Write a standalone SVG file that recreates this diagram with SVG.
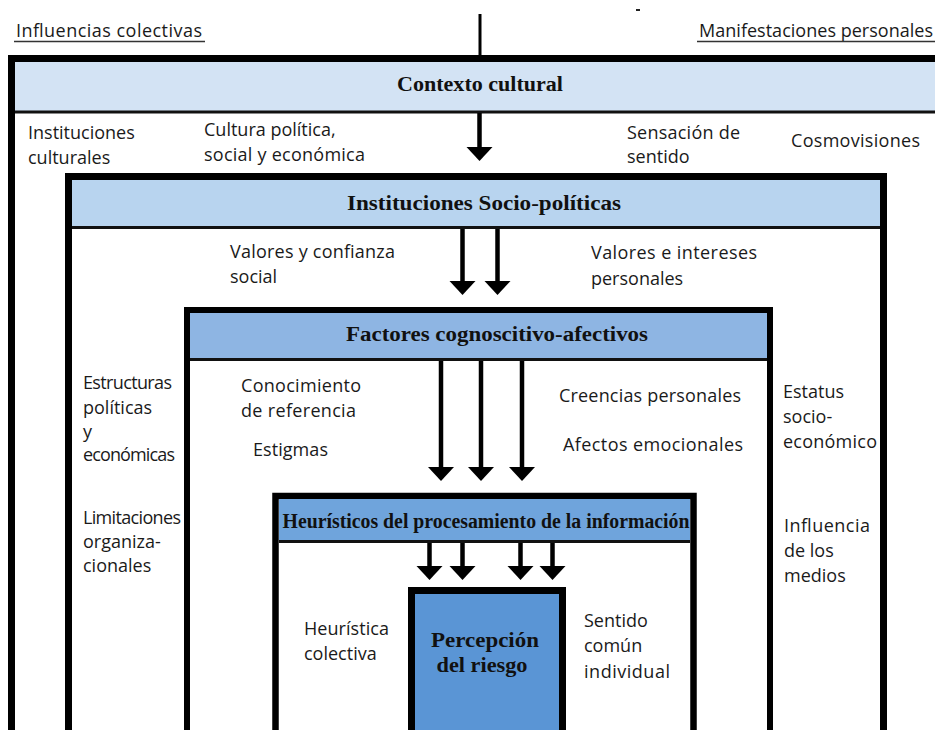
<svg xmlns="http://www.w3.org/2000/svg" width="935" height="730" viewBox="0 0 935 730">
<style>
.box{stroke:#000;}
.t{font-family:"Open Sans","Liberation Sans",sans-serif;font-size:18px;fill:#1a1a1a;}
.h{font-family:"Liberation Serif","DejaVu Serif",serif;font-weight:bold;font-size:20px;fill:#111;text-anchor:middle;}
.hl{stroke:#111;stroke-width:3;}
.ar{stroke:#000;stroke-width:4.5;fill:none;marker-end:url(#ah);}
.ul{stroke:#333;stroke-width:1.3;}
</style>
<defs>
<marker id="ah" markerUnits="userSpaceOnUse" markerWidth="15" markerHeight="27" refX="1" refY="13" orient="auto" viewBox="0 0 15 27" overflow="visible">
<path d="M0,0 L14,13 L0,26 Z" fill="#000"/>
</marker>
</defs>
<rect width="935" height="730" fill="#fff"/>

<g id="top">
<text class="t" x="16" y="37" textLength="186">Influencias colectivas</text>
<line class="ul" x1="14" y1="41.5" x2="205" y2="41.5"/>
<text class="t" x="699" y="37" textLength="234">Manifestaciones personales</text>
<line class="ul" x1="697" y1="41.5" x2="935" y2="41.5"/>
<line x1="480" y1="14" x2="480" y2="57" stroke="#000" stroke-width="3"/>
<rect x="636" y="9" width="4" height="2" fill="#222"/>
</g>

<g id="contexto-cultural">
<rect class="box" x="11.5" y="58.5" width="960" height="720" fill="#fff" stroke-width="7"/>
<rect x="15" y="62" width="930" height="49" fill="#D3E3F4"/>
<line class="hl" x1="15" y1="112" x2="935" y2="112"/>
<text class="h" x="480" y="91" textLength="166" lengthAdjust="spacingAndGlyphs">Contexto cultural</text>
<text class="t" x="28" y="139">Instituciones</text>
<text class="t" x="28" y="164">culturales</text>
<text class="t" x="204" y="136">Cultura política,</text>
<text class="t" x="204" y="161" textLength="161">social y económica</text>
<text class="t" x="627" y="139" textLength="113">Sensación de</text>
<text class="t" x="627" y="163">sentido</text>
<text class="t" x="791" y="147" textLength="129">Cosmovisiones</text>
</g>

<g id="instituciones-socio-politicas">
<rect class="box" x="68.5" y="176.5" width="815" height="600" fill="#fff" stroke-width="7"/>
<rect x="72" y="180" width="808" height="47" fill="#B8D4EF"/>
<line class="hl" x1="72" y1="227.5" x2="880" y2="227.5"/>
<text class="h" x="484" y="210" textLength="274" lengthAdjust="spacingAndGlyphs">Instituciones Socio-políticas</text>
<text class="t" x="230" y="258" textLength="165">Valores y confianza</text>
<text class="t" x="230" y="283">social</text>
<text class="t" x="591" y="259" textLength="166">Valores e intereses</text>
<text class="t" x="591" y="285">personales</text>
<text class="t" x="83" y="389" textLength="89">Estructuras</text>
<text class="t" x="83" y="414">políticas</text>
<text class="t" x="83" y="438"> y</text>
<text class="t" x="83" y="461" textLength="92">económicas</text>
<text class="t" x="83" y="524" textLength="98">Limitaciones</text>
<text class="t" x="83" y="548">organiza-</text>
<text class="t" x="83" y="572">cionales</text>
<text class="t" x="783" y="398">Estatus</text>
<text class="t" x="783" y="423">socio-</text>
<text class="t" x="783" y="448" textLength="94">económico</text>
<text class="t" x="784" y="532" textLength="86">Influencia</text>
<text class="t" x="784" y="557">de los</text>
<text class="t" x="784" y="582">medios</text>
</g>

<g id="factores-cognoscitivo-afectivos">
<rect class="box" x="187" y="310" width="583" height="500" fill="#fff" stroke-width="6"/>
<rect x="190" y="313" width="577" height="46" fill="#8EB5E3"/>
<line class="hl" x1="190" y1="359.5" x2="767" y2="359.5"/>
<text class="h" x="497" y="341" textLength="302" lengthAdjust="spacingAndGlyphs">Factores cognoscitivo-afectivos</text>
<text class="t" x="241" y="392" textLength="120">Conocimiento</text>
<text class="t" x="241" y="417" textLength="115">de referencia</text>
<text class="t" x="253" y="456" textLength="75">Estigmas</text>
<text class="t" x="559" y="402" textLength="182">Creencias personales</text>
<text class="t" x="563" y="451" textLength="180">Afectos emocionales</text>
</g>

<g id="heuristicos">
<rect class="box" x="275.5" y="496" width="418" height="300" fill="#fff" stroke-width="6.5"/>
<rect x="279" y="499" width="411" height="42" fill="#6FA4DC"/>
<line class="hl" x1="279" y1="541.5" x2="690" y2="541.5"/>
<text class="h" x="486" y="528" textLength="407" lengthAdjust="spacingAndGlyphs">Heurísticos del procesamiento de la información</text>
<text class="t" x="304" y="635" textLength="85">Heurística</text>
<text class="t" x="304" y="660">colectiva</text>
<text class="t" x="584" y="627">Sentido</text>
<text class="t" x="584" y="652">común</text>
<text class="t" x="584" y="678" textLength="86">individual</text>
</g>

<g id="percepcion-del-riesgo">
<rect class="box" x="411.5" y="590.5" width="151" height="200" fill="#5A95D5" stroke-width="7"/>
<text class="h" x="485" y="647" textLength="108" lengthAdjust="spacingAndGlyphs" style="font-size:21px">Percepción</text>
<text class="h" x="482" y="672" textLength="91" lengthAdjust="spacingAndGlyphs" style="font-size:21px">del riesgo</text>
</g>

<g id="connectors">
<line class="ar" x1="479.5" y1="113" x2="479.5" y2="148"/>
<line class="ar" x1="462.5" y1="229" x2="462.5" y2="282"/>
<line class="ar" x1="497.5" y1="229" x2="497.5" y2="282"/>
<line class="ar" x1="441" y1="361" x2="441" y2="468"/>
<line class="ar" x1="481" y1="361" x2="481" y2="468"/>
<line class="ar" x1="522" y1="361" x2="522" y2="468"/>
<line class="ar" x1="429.5" y1="543" x2="429.5" y2="567"/>
<line class="ar" x1="462.5" y1="543" x2="462.5" y2="567"/>
<line class="ar" x1="520.5" y1="543" x2="520.5" y2="567"/>
<line class="ar" x1="552.5" y1="543" x2="552.5" y2="567"/>
</g>
</svg>
